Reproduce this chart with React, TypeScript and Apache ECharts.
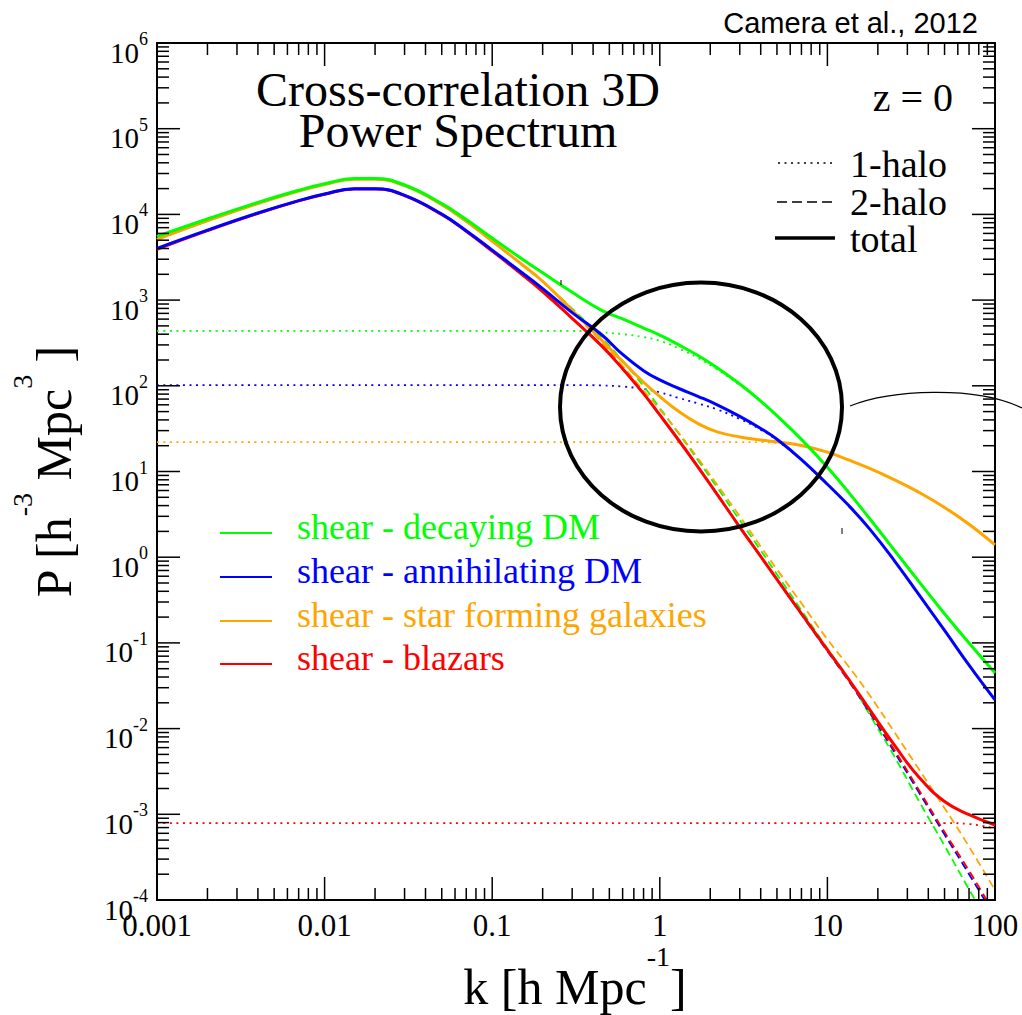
import React, { useEffect, useRef } from 'react';
import * as echarts from 'echarts';

// ---------------- data ----------------
const K = [0.001, 0.002, 0.004, 0.007, 0.01, 0.015, 0.02, 0.03, 0.05, 0.07, 0.1, 0.15, 0.2, 0.3, 0.45, 0.6, 0.8, 1, 1.3, 1.7, 2.2, 3, 4, 5, 7, 10, 13.5, 18, 25, 35, 50, 70, 100];

const GREEN_TOTAL = [5540, 8840, 13800, 19130, 22790, 26180, 26180, 22030, 13400, 8710, 5290, 3040, 2080, 1233, 760, 603, 472, 390, 300, 224, 162, 105, 66.3, 44.9, 23.7, 11.2, 5.6, 2.77, 1.22, 0.526, 0.219, 0.0995, 0.0446];
const GREEN_1H = [437, 437, 437, 437, 437, 437, 437, 437, 437, 437, 437, 437, 437, 437, 420, 400, 370, 335, 272, 210, 155, 102, 65, 44.3, 23.5, 11.1, 5.56, 2.76, 1.215, 0.524, 0.218, 0.099, 0.0445];
const GREEN_2H = [5100, 8400, 13360, 18690, 22350, 25740, 25740, 21590, 12960, 8270, 4850, 2600, 1640, 796, 365, 195, 99, 55, 27.6, 13.3, 6.5, 2.7, 1.2, 0.63, 0.24, 0.086, 0.037, 0.0142, 0.0048, 0.00145, 0.00043, 0.000133, 0.00004];

const BLUE_TOTAL = [4020, 6560, 10380, 14480, 17290, 19900, 19900, 16710, 10070, 6460, 3830, 2100, 1360, 714, 394, 232, 150, 117, 93, 75, 60, 44, 31.8, 23.8, 13.8, 7.1, 3.95, 2.1, 0.92, 0.37, 0.14, 0.055, 0.0216];
const BLUE_1H = [102, 102, 102, 102, 102, 102, 102, 102, 102, 102, 102, 102, 102, 102, 101, 98, 92, 84, 72, 62, 53, 41, 30.8, 23.2, 13.6, 7.0, 3.9, 2.08, 0.91, 0.366, 0.139, 0.0545, 0.0214];
const BLUE_2H = [3920, 6460, 10280, 14380, 17190, 19800, 19800, 16610, 9970, 6360, 3730, 2000, 1260, 612, 292, 158, 81, 45.7, 23, 11.1, 5.4, 2.25, 1.02, 0.55, 0.215, 0.08, 0.035, 0.015, 0.0054, 0.00183, 0.00058, 0.0002, 0.000063];

const ORANGE_TOTAL = [5120, 8420, 13380, 18710, 22370, 25760, 25760, 21610, 12980, 8290, 4870, 2620, 1660, 762, 342, 192, 110, 75, 50, 36, 29, 25.3, 23.3, 22.2, 20.1, 16.8, 13.55, 10.8, 8.04, 5.74, 3.81, 2.42, 1.39];
const ORANGE_1H = [22, 22, 22, 22, 22, 22, 22, 22, 22, 22, 22, 22, 22, 22, 22, 22, 22, 22, 22, 22, 22, 22, 22, 21.5, 19.8, 16.7, 13.5, 10.78, 8.03, 5.74, 3.81, 2.42, 1.39];
const ORANGE_2H = [5100, 8400, 13360, 18690, 22350, 25740, 25740, 21590, 12960, 8270, 4850, 2600, 1640, 740, 320, 170, 88, 53, 28, 14, 7.0, 3.0, 1.33, 0.72, 0.29, 0.11, 0.052, 0.024, 0.0092, 0.0034, 0.00118, 0.00042, 0.00013];

const RED_TOTAL = [3920, 6460, 10280, 14380, 17190, 19800, 19800, 16610, 9970, 6360, 3730, 2000, 1260, 612, 292, 158, 81, 45.7, 23, 11.1, 5.4, 2.25, 1.02, 0.55, 0.219, 0.083, 0.0368, 0.0163, 0.0065, 0.00274, 0.00141, 0.00099, 0.00075];
const RED_1H = [0.00079, 0.00079, 0.00079, 0.00079, 0.00079, 0.00079, 0.00079, 0.00079, 0.00079, 0.00079, 0.00079, 0.00079, 0.00079, 0.00079, 0.00079, 0.00079, 0.00079, 0.00079, 0.00079, 0.00079, 0.00079, 0.00079, 0.00079, 0.00079, 0.00079, 0.00079, 0.00079, 0.00079, 0.00079, 0.00079, 0.00079, 0.00077, 0.00068];
const RED_2H = [3920, 6460, 10280, 14380, 17190, 19800, 19800, 16610, 9970, 6360, 3730, 2000, 1260, 612, 292, 158, 81, 45.7, 23, 11.1, 5.4, 2.25, 1.02, 0.55, 0.218, 0.082, 0.036, 0.0155, 0.0057, 0.00195, 0.00062, 0.00022, 0.000068];

const X_TICK_VALUES = [0.001, 0.01, 0.1, 1, 10, 100];
const X_TICK_LABELS = ['0.001', '0.01', '0.1', '1', '10', '100'];
const Y_EXPONENTS = [-4, -3, -2, -1, 0, 1, 2, 3, 4, 5, 6];

const TRACERS = ['shear - decaying DM', 'shear - annihilating DM', 'shear - star forming galaxies', 'shear - blazars'];
const HALO_LEGEND = ['1-halo', '2-halo', 'total'];

const GREEN = '#00ff00';
const BLUE = '#0000ff';
const ORANGE = '#ffa500';
const RED = '#ff0000';
const SERIF = '"Liberation Serif", "DejaVu Serif", serif';
const SANS = '"Liberation Sans", Arial, sans-serif';

const DOT = [2, 4.5];
const DASH = [8, 4.5];

export default function App() {
  const ref = useRef<HTMLDivElement>(null);

  useEffect(() => {
    const chart = echarts.init(ref.current as HTMLDivElement, null, { renderer: 'svg' });
    const pts = (arr: number[]) => K.map((k, i) => [k, arr[i]]);
    const mk = (name: string, arr: number[], color: string, kind: 'dot' | 'dash' | 'solid') => ({
      name,
      type: 'line',
      data: pts(arr),
      showSymbol: false,
      symbol: 'none',
      smooth: 0.45,
      clip: true,
      silent: true,
      emphasis: { disabled: true },
      z: kind === 'solid' ? 4 : kind === 'dash' ? 3 : 2,
      lineStyle: {
        color,
        width: kind === 'solid' ? 3 : 1.8,
        type: kind === 'solid' ? 'solid' : kind === 'dash' ? DASH : DOT,
        cap: 'butt',
      },
    });

    chart.setOption({
      animation: false,
      backgroundColor: '#ffffff',
      grid: { left: 157, top: 43, width: 838, height: 857, show: true, borderColor: '#000', borderWidth: 2, backgroundColor: 'transparent' },
      xAxis: {
        type: 'log', logBase: 10, min: 0.001, max: 100,
        axisLine: { show: false }, axisTick: { show: false }, axisLabel: { show: false }, splitLine: { show: false },
      },
      yAxis: {
        type: 'log', logBase: 10, min: 1e-4, max: 1e6,
        axisLine: { show: false }, axisTick: { show: false }, axisLabel: { show: false }, splitLine: { show: false },
      },
      series: [
        mk('decaying DM 1-halo', GREEN_1H, GREEN, 'dot'),
        mk('annihilating DM 1-halo', BLUE_1H, BLUE, 'dot'),
        mk('star forming galaxies 1-halo', ORANGE_1H, ORANGE, 'dot'),
        mk('blazars 1-halo', RED_1H, RED, 'dot'),
        mk('decaying DM 2-halo', GREEN_2H, GREEN, 'dash'),
        mk('annihilating DM 2-halo', BLUE_2H, BLUE, 'dash'),
        mk('star forming galaxies 2-halo', ORANGE_2H, ORANGE, 'dash'),
        mk('blazars 2-halo', RED_2H, RED, 'dash'),
        mk('star forming galaxies total', ORANGE_TOTAL, ORANGE, 'solid'),
        mk('blazars total', RED_TOTAL, RED, 'solid'),
        mk('annihilating DM total', BLUE_TOTAL, BLUE, 'solid'),
        mk('decaying DM total', GREEN_TOTAL, GREEN, 'solid'),
      ],
    });

    const px = (v: number) => chart.convertToPixel({ xAxisIndex: 0 }, v) as number;
    const py = (v: number) => chart.convertToPixel({ yAxisIndex: 0 }, v) as number;
    const left = px(0.001);
    const right = px(100);
    const top = py(1e6);
    const bottom = py(1e-4);

    const g: any[] = [];
    const seg = (x1: number, y1: number, x2: number, y2: number, lw = 1.5, extra: any = {}) =>
      g.push({ type: 'line', silent: true, z: 10, shape: { x1, y1, x2, y2 }, style: { stroke: '#000', lineWidth: lw, ...extra } });

    // x ticks (bottom and top)
    for (let d = -3; d <= 2; d++) {
      for (let m = 1; m <= 9; m++) {
        const v = m * Math.pow(10, d);
        if (v > 100.0001) break;
        const x = px(v);
        const len = m === 1 ? 23 : 12;
        seg(x, bottom, x, bottom - len);
        seg(x, top, x, top + len);
      }
    }
    // y ticks (left and right)
    for (let d = -4; d <= 6; d++) {
      for (let m = 1; m <= 9; m++) {
        const v = m * Math.pow(10, d);
        if (v > 1e6 * 1.0001) break;
        const y = py(v);
        const len = m === 1 ? 23 : 12;
        seg(left, y, left + len, y);
        seg(right, y, right - len, y);
      }
    }

    // x tick labels
    X_TICK_VALUES.forEach((v, i) => {
      g.push({
        type: 'text', silent: true, z: 11, x: px(v), y: bottom + 25,
        style: { text: X_TICK_LABELS[i], align: 'center', verticalAlign: 'middle', fontSize: 31, fontFamily: SERIF, fill: '#000' },
      });
    });
    // y tick labels 10^n
    Y_EXPONENTS.forEach((e) => {
      g.push({
        type: 'text', silent: true, z: 11, x: left - 9, y: py(Math.pow(10, e)) + 5.5,
        style: {
          text: `{b|10}{s|${e}}`, align: 'right', verticalAlign: 'middle',
          rich: {
            b: { fontSize: 29, fontFamily: SERIF, fill: '#000', verticalAlign: 'bottom' },
            s: { fontSize: 18, fontFamily: SERIF, fill: '#000', verticalAlign: 'top', lineHeight: 37 },
          },
        },
      });
    });

    // axis titles
    const titleRich = {
      t: { fontSize: 50, fontFamily: SERIF, fill: '#000', verticalAlign: 'bottom' },
      s: { fontSize: 28, fontFamily: SERIF, fill: '#000', verticalAlign: 'top', lineHeight: 70 },
    };
    g.push({
      type: 'text', silent: true, z: 11, x: 575, y: 977,
      style: { text: '{t|k [h Mpc}{s|-1}{t|]}', align: 'center', verticalAlign: 'middle', rich: titleRich },
    });
    g.push({
      type: 'text', silent: true, z: 11, x: 43.5, y: 472, rotation: Math.PI / 2,
      style: { text: '{t|P [h}{s|-3}{t| Mpc}{s|3}{t| ]}', align: 'center', verticalAlign: 'middle', rich: titleRich },
    });

    // plot title (two lines in one text)
    g.push({
      type: 'text', silent: true, z: 11, x: 458, y: 110,
      style: { text: 'Cross-correlation 3D\nPower Spectrum', align: 'center', verticalAlign: 'middle', fontSize: 48, lineHeight: 41, fontFamily: SERIF, fill: '#000' },
    });
    g.push({ type: 'text', silent: true, z: 11, x: 953, y: 97, style: { text: 'z = 0', align: 'right', verticalAlign: 'middle', fontSize: 40, fontFamily: SERIF, fill: '#000' } });

    // halo-term legend
    const lineYs = [163, 202, 238];
    seg(778, lineYs[0], 835, lineYs[0], 1.5, { lineDash: [2, 4.5] });
    seg(777, lineYs[1], 835, lineYs[1], 1.5, { lineDash: [10, 5] });
    seg(775, lineYs[2], 835, lineYs[2], 3.5);
    g.push({
      type: 'text', silent: true, z: 11, x: 850, y: 201.5,
      style: { text: HALO_LEGEND.join('\n'), align: 'left', verticalAlign: 'middle', fontSize: 38, lineHeight: 37.5, fontFamily: SERIF, fill: '#000' },
    });

    // tracer legend
    const colors = [GREEN, BLUE, ORANGE, RED];
    const trY = [533, 577, 621, 664];
    TRACERS.forEach((t, i) => {
      g.push({ type: 'line', silent: true, z: 10, shape: { x1: 220, y1: trY[i], x2: 272, y2: trY[i] }, style: { stroke: colors[i], lineWidth: 2 } });
      g.push({ type: 'text', silent: true, z: 11, x: 297, y: trY[i] - 6, style: { text: t, align: 'left', verticalAlign: 'middle', fontSize: 36, fontFamily: SERIF, fill: colors[i] } });
    });

    // annotation: ellipse + hand-drawn curve
    g.push({ type: 'ellipse', silent: true, z: 12, shape: { cx: 701, cy: 407, rx: 141, ry: 124.5 }, style: { fill: 'none', stroke: '#000', lineWidth: 4 } });
    g.push({ type: 'bezierCurve', silent: true, z: 12, shape: { x1: 850, y1: 406, cpx1: 890, cpy1: 390, cpx2: 975, cpy2: 385, x2: 1022, y2: 408 }, style: { fill: 'none', stroke: '#000', lineWidth: 1.2 } });
    seg(561, 280, 561, 285, 1);
    seg(842, 528, 842, 534, 1);

    // credit
    g.push({ type: 'text', silent: true, z: 11, x: 978, y: 23, style: { text: 'Camera et al., 2012', align: 'right', verticalAlign: 'middle', fontSize: 29, fontFamily: SANS, fill: '#000' } });

    chart.setOption({ graphic: g });

    return () => chart.dispose();
  }, []);

  return <div ref={ref} style={{ position: 'fixed', left: 0, top: 0, width: 1022, height: 1015, background: '#fff' }} />;
}
